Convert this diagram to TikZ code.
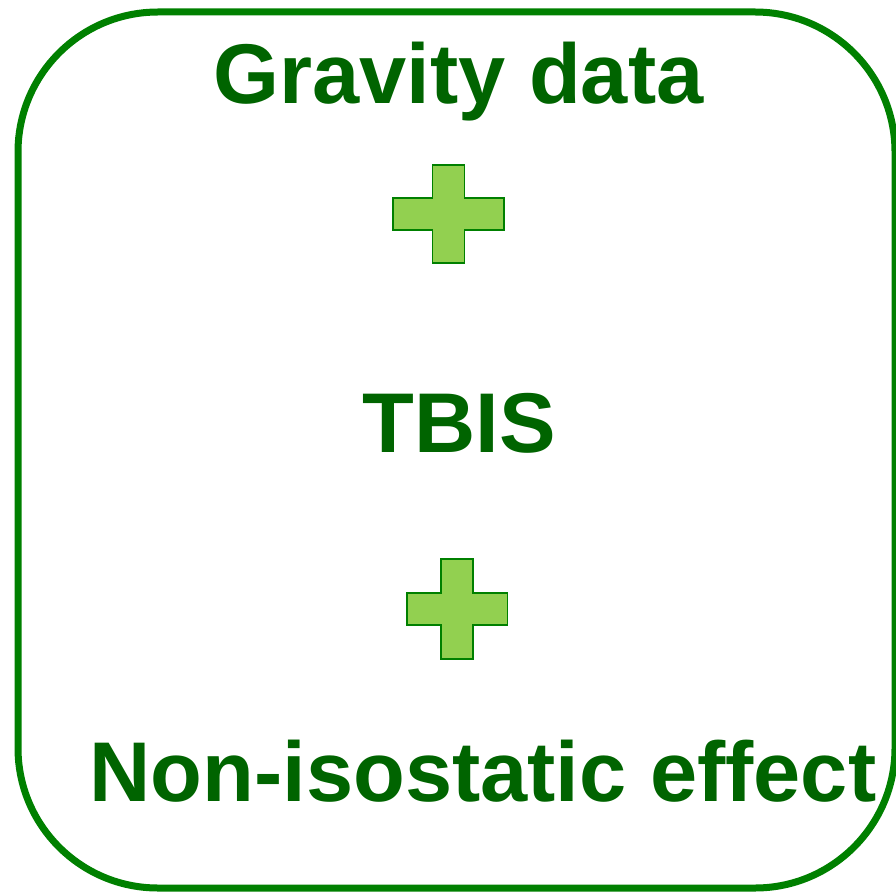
\documentclass[tikz,border=0pt]{standalone}
\usepackage{fontspec}
\setmainfont{Liberation Sans}
\definecolor{txtgreen}{RGB}{0,100,0}
\definecolor{framegreen}{RGB}{0,128,0}
\definecolor{plusfill}{RGB}{146,208,80}
\definecolor{plusline}{RGB}{0,128,0}
\tikzset{
  framebox/.style={draw=framegreen, line width=7pt, rounded corners=140pt},
  bigtext/.style={text=txtgreen, font=\fontsize{84.8}{100}\selectfont\bfseries, inner sep=0pt, anchor=base},
  plussign/.style={draw=plusline, fill=plusfill, line width=1.8pt, line join=miter}
}
\begin{document}
\begin{tikzpicture}[x=1pt,y=-1pt]
\useasboundingbox (0,0) rectangle (896,893);
\draw[framebox] (18,12) rectangle (895,888);
\node[bigtext] (grav) at (458.5,104) {Gravity data};
\node[bigtext] (tbis) at (459,452) {TBIS};
\node[bigtext] (noniso) at (483,801) {Non-isostatic effect};
\draw[plussign] (432.5,165) -- (464.5,165) -- (464.5,198) -- (504,198) -- (504,230) -- (464.5,230) -- (464.5,263) -- (432.5,263) -- (432.5,230) -- (393,230) -- (393,198) -- (432.5,198) -- cycle;
\draw[plussign] (441,559) -- (473,559) -- (473,593) -- (507.5,593) -- (507.5,625) -- (473,625) -- (473,659) -- (441,659) -- (441,625) -- (407,625) -- (407,593) -- (441,593) -- cycle;
\end{tikzpicture}
\end{document}
